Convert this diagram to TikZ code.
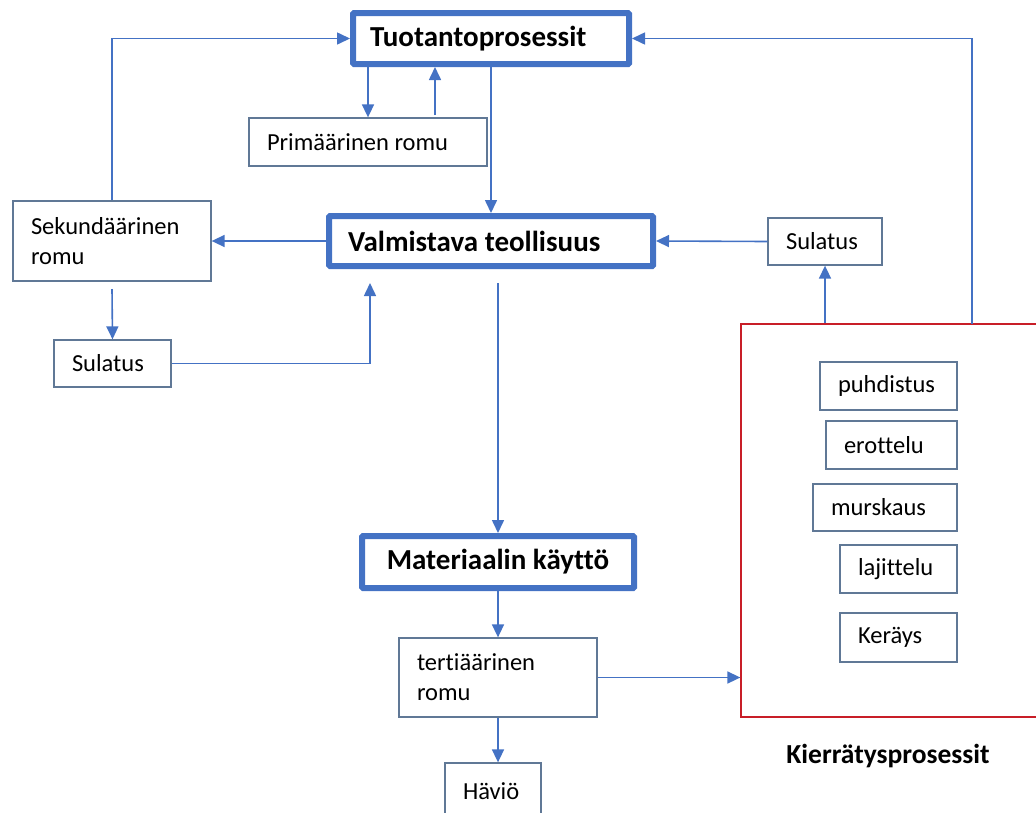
\documentclass[tikz,border=0pt]{standalone}
\usepackage{fontspec}
\setmainfont{Carlito}[Ligatures=NoCommon]
\usetikzlibrary{arrows.meta}
\definecolor{flowblue}{RGB}{68,114,196}
\definecolor{framegray}{RGB}{96,120,150}
\definecolor{recred}{RGB}{200,30,40}

\tikzset{
	mainbox/.style={draw=flowblue, line width=6pt, rounded corners=1pt, inner sep=0pt,
		font=\fontsize{29}{33}\selectfont\bfseries},
	scrapbox/.style={draw=framegray, line width=1.3pt, inner xsep=18pt, inner ysep=0pt,
		minimum height=48pt, align=flush left, text width=#1, font=\fontsize{24.5}{30}\selectfont},
	flow/.style={draw=flowblue, line width=1.6pt, -{Triangle[length=13pt,width=12pt]}}
}

\begin{document}
\begin{tikzpicture}[x=1pt,y=-1pt]
		\useasboundingbox (0,0) rectangle (1036,812);
		\clip (0,0) rectangle (1036,812);
		
		% Main process boxes
		\node[mainbox, inner xsep=17pt, text width=242pt, align=flush left, minimum height=51pt] (tuot) at (491,38.5) {Tuotantoprosessit};
		\node[mainbox, inner xsep=19pt, text width=286pt, align=flush left, minimum height=50pt] (valm) at (491,241) {Valmistava teollisuus};
		\node[mainbox, minimum width=272pt, minimum height=52pt] (mat) at (498,562) {Materiaalin käyttö};
		
		% Scrap boxes
		\node[scrapbox=202pt] (prim) at (368,142) {Primäärinen romu};
		\node[scrapbox=162pt, minimum height=80pt] (sek) at (112,241) {Sekundäärinen\\romu};
		\node[scrapbox=81pt, minimum height=47pt] (sul1) at (112.5,363.5) {Sulatus};
		\node[scrapbox=78pt, minimum height=47pt] (sul2) at (825,241.5) {Sulatus};
		\node[scrapbox=162pt, minimum height=79pt] (tert) at (498,677.5) {tertiäärinen\\romu};
		\node[scrapbox=60pt, minimum height=56pt] (hav) at (493,791) {Häviö};
		
		% Recycling
		\node[draw=recred, line width=1.3pt, minimum width=299pt, minimum height=393pt, inner sep=0pt] (kier) at (890.5,520.5) {};
		\node[scrapbox=101pt] (puh) at (888.5,386) {puhdistus};
		\node[scrapbox=95pt] (ero) at (891.5,445) {erottelu};
		\node[scrapbox=108pt, minimum height=47pt] (mur) at (885,507.5) {murskaus};
		\node[scrapbox=81pt] (laj) at (898.5,569) {lajittelu};
		\node[scrapbox=81pt, minimum height=49pt] (ker) at (898.5,637.5) {Keräys};
		\node[font=\fontsize{27.5}{32}\selectfont\bfseries] (kierlbl) at (888,756) {Kierrätysprosessit};
		
		% Free ends
		\coordinate (primup) at (435,115);
		\coordinate (valmin) at (370,283);
		\coordinate (valmout) at (498,283);
		\coordinate (sekout) at (112,289);
		\coordinate (kierout) at (972,324);
		
		% Connectors
		\draw[flow] (sek.north) |- (tuot.west);
		\draw[flow] (prim.north |- tuot.south) -- (prim.north);
		\draw[flow] (primup) -- (primup |- tuot.south);
		\draw[flow] (tuot.south) -- (valm.north);
		\draw[flow] (valm.west) -- (sek.east);
		\draw[flow] (sekout) -- (sul1.north);
		\draw[flow] (sul1.east) -| (valmin);
		\draw[flow] (sul2.west) -- (valm.east);
		\draw[flow] (sul2.south |- kier.north) -- (sul2.south);
		\draw[flow] (kierout) |- (tuot.east);
		\draw[flow] (valmout) -- (mat.north);
		\draw[flow] (mat.south) -- (tert.north);
		\draw[flow] (tert.south) -- (tert.south |- hav.north);
		\draw[flow] (tert.east) -- (tert.east -| kier.west);
\end{tikzpicture}
\end{document}
